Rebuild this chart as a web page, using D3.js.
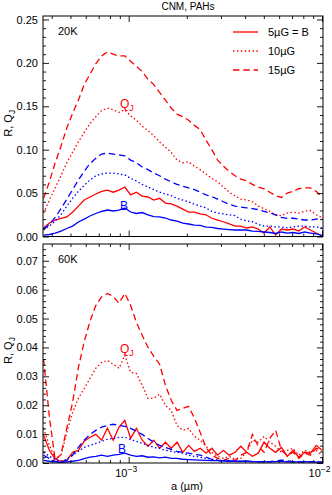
<!DOCTYPE html>
<html>
<head>
<meta charset="utf-8">
<script src="https://d3js.org/d3.v7.min.js"></script>
<style>
  body { margin: 0; background: #fff; }
  svg { font-family: "Liberation Sans", Arial, sans-serif; }
</style>
</head>
<body>
<svg id="chart" width="332" height="495"></svg>
<script>
// grain size grid, log10(a / µm)
const logA = [-3.44,-3.41,-3.38,-3.35,-3.32,-3.29,-3.26,-3.23,-3.20,-3.17,-3.14,-3.11,-3.08,-3.05,-3.02,-2.99,-2.96,-2.93,-2.90,-2.87,-2.84,-2.81,-2.78,-2.75,-2.72,-2.69,-2.66,-2.63,-2.60,-2.57,-2.54,-2.51,-2.48,-2.45,-2.42,-2.39,-2.36,-2.33,-2.30,-2.27,-2.24,-2.21,-2.18,-2.15,-2.12,-2.09,-2.06,-2.03,-2.00];

// 20K panel: red = Q_J, blue = R
const q20_5  = [0.0098,0.0155,0.019,0.021,0.0225,0.028,0.035,0.042,0.0455,0.049,0.052,0.0535,0.051,0.0535,0.057,0.048,0.051,0.0465,0.0455,0.042,0.044,0.0385,0.0375,0.035,0.0315,0.028,0.028,0.026,0.025,0.021,0.019,0.017,0.0145,0.012,0.012,0.0098,0.011,0.0086,0.004,0.011,0.0017,0.0086,0.0075,0.0086,0.0063,0.011,0.0075,0.004,0.0006];
const q20_10 = [0.027,0.042,0.056,0.070,0.085,0.097,0.109,0.120,0.130,0.138,0.145,0.148,0.146,0.143,0.146,0.139,0.134,0.127,0.122,0.116,0.109,0.103,0.097,0.088,0.085,0.086,0.081,0.077,0.072,0.067,0.063,0.057,0.051,0.047,0.043,0.042,0.040,0.035,0.032,0.029,0.025,0.024,0.027,0.028,0.027,0.029,0.030,0.025,0.022];
const q20_15 = [0.044,0.063,0.085,0.104,0.125,0.142,0.157,0.175,0.187,0.199,0.208,0.2125,0.210,0.208,0.208,0.202,0.196,0.190,0.181,0.175,0.166,0.157,0.148,0.141,0.138,0.134,0.128,0.123,0.111,0.100,0.088,0.081,0.075,0.070,0.066,0.064,0.060,0.057,0.055,0.051,0.047,0.045,0.050,0.052,0.055,0.056,0.056,0.052,0.045];
const r20_5  = [0.0017,0.0023,0.004,0.0063,0.0092,0.012,0.0167,0.020,0.0236,0.0265,0.0288,0.0305,0.0294,0.0305,0.0328,0.0282,0.0265,0.0276,0.0248,0.023,0.0225,0.0213,0.019,0.0178,0.0155,0.0144,0.0132,0.0127,0.0109,0.0104,0.0092,0.0086,0.008,0.0075,0.0075,0.0075,0.0063,0.0058,0.0052,0.0046,0.0035,0.0052,0.004,0.0046,0.0035,0.0052,0.004,0.0029,0.0012];
const r20_10 = [0.0075,0.012,0.018,0.025,0.035,0.044,0.052,0.059,0.065,0.070,0.072,0.073,0.073,0.072,0.071,0.067,0.064,0.060,0.057,0.054,0.051,0.049,0.047,0.044,0.042,0.040,0.037,0.035,0.033,0.029,0.027,0.026,0.025,0.024,0.020,0.018,0.017,0.014,0.012,0.012,0.011,0.011,0.010,0.011,0.012,0.012,0.011,0.011,0.010];
const r20_15 = [0.0086,0.014,0.022,0.032,0.043,0.054,0.065,0.075,0.084,0.090,0.095,0.096,0.095,0.094,0.093,0.088,0.085,0.080,0.077,0.073,0.070,0.066,0.063,0.060,0.058,0.056,0.054,0.051,0.048,0.046,0.043,0.040,0.037,0.035,0.034,0.033,0.032,0.031,0.029,0.027,0.025,0.022,0.021,0.021,0.020,0.019,0.019,0.020,0.021];

// 60K panel
const q60_5  = [0.0096,0.0044,0.0013,0.0006,0.0009,0.0037,0.0044,0.0075,0.0089,0.0099,0.0079,0.012,0.0079,0.0124,0.0148,0.0085,0.012,0.0079,0.0058,0.0079,0.0051,0.0072,0.0051,0.0072,0.0037,0.0061,0.004,0.0051,0.0034,0.0051,0.0027,0.0044,0.0027,0.0037,0.0058,0.0037,0.0023,0.0034,0.0072,0.0051,0.0037,0.0054,0.0023,0.0044,0.002,0.0037,0.0034,0.0061,0.0044];
const q60_10 = [0.012,0.0061,0.0016,0.0027,0.0106,0.0175,0.0224,0.0258,0.0293,0.0328,0.0348,0.0355,0.0342,0.0328,0.0373,0.0314,0.031,0.0269,0.0224,0.0224,0.0238,0.020,0.0182,0.013,0.0113,0.012,0.0092,0.0079,0.0058,0.0037,0.0023,0.0016,0.0023,0.0013,0.0016,0.0037,0.0079,0.0072,0.0092,0.0072,0.0058,0.0037,0.0044,0.0051,0.0027,0.0044,0.0037,0.0044,0.0027];
const q60_15 = [0.036,0.016,0.001,0.003,0.012,0.021,0.033,0.042,0.049,0.0545,0.0575,0.0587,0.0577,0.0553,0.0587,0.0546,0.0487,0.0442,0.040,0.0369,0.0342,0.0269,0.0217,0.0182,0.0189,0.0196,0.0155,0.0106,0.0054,0.0027,0.0016,0.0009,0.0016,0.0009,0.0027,0.0037,0.0099,0.0058,0.0037,0.0085,0.0113,0.0044,0.0027,0.0037,0.0016,0.0034,0.0027,0.0051,0.0044];
const r60_5  = [0.0009,0.0006,0.0004,0.0002,0.0004,0.0006,0.0009,0.0015,0.002,0.0023,0.0027,0.0023,0.0027,0.003,0.0034,0.0027,0.0023,0.0025,0.002,0.0021,0.0018,0.002,0.0016,0.0016,0.0013,0.0012,0.0011,0.001,0.0009,0.0008,0.0008,0.0007,0.0007,0.0006,0.0006,0.0006,0.0005,0.0005,0.0005,0.0004,0.0005,0.0005,0.0004,0.0004,0.0004,0.0004,0.0004,0.0003,0.0003];
const r60_10 = [0.0037,0.0023,0.0013,0.0006,0.0013,0.0027,0.004,0.0054,0.0061,0.0068,0.0075,0.0082,0.0085,0.0089,0.0089,0.0082,0.0075,0.0068,0.0061,0.0054,0.0051,0.0044,0.004,0.0037,0.0034,0.0027,0.0023,0.002,0.0016,0.0013,0.001,0.0009,0.0008,0.0007,0.0006,0.0006,0.0005,0.0005,0.0004,0.0004,0.0005,0.0006,0.0005,0.0004,0.0004,0.0005,0.0004,0.0004,0.0003];
const r60_15 = [0.0027,0.0016,0.0006,0.0002,0.0009,0.0027,0.0054,0.0079,0.0099,0.0113,0.0124,0.013,0.0134,0.013,0.0127,0.012,0.011,0.0099,0.0085,0.0072,0.0061,0.0054,0.0047,0.004,0.0037,0.0034,0.003,0.0027,0.002,0.0013,0.0009,0.0006,0.0006,0.0005,0.0005,0.0006,0.0005,0.0004,0.0004,0.0005,0.0007,0.001,0.0007,0.0005,0.0004,0.0004,0.0005,0.0004,0.0003];

const yTicks20 = [0, 0.05, 0.10, 0.15, 0.20, 0.25];
const yTicks60 = [0, 0.01, 0.02, 0.03, 0.04, 0.05, 0.06, 0.07];
const xMajor = [1e-3, 1e-2];
const xMinor = [4e-4,5e-4,6e-4,7e-4,8e-4,9e-4,2e-3,3e-3,4e-3,5e-3,6e-3,7e-3,8e-3,9e-3];
const legendLabels = ["5\u00b5G = B", "10\u00b5G", "15\u00b5G"];

const svg = d3.select("#chart");
const left = 43, right = 323;
const dashes = { solid: null, dotted: "1.5,2.4", dashed: "6.5,3.8" };

const x = d3.scaleLog()
  .domain([Math.pow(10, -3.443), Math.pow(10, -1.995)])
  .range([left, right]);

const panels = [
  { label: "20K", top: 16, bottom: 236.5, ymax: 0.254, ticks: yTicks20, minorStep: 0.01,
    series: [[q20_5,"red","solid"],[q20_10,"red","dotted"],[q20_15,"red","dashed"],
             [r20_5,"blue","solid"],[r20_10,"blue","dotted"],[r20_15,"blue","dashed"]],
    qj: [120, 108], bLab: [120, 210], xLabels: false },
  { label: "60K", top: 244, bottom: 463, ymax: 0.0758, ticks: yTicks60, minorStep: 0.002,
    series: [[q60_5,"red","solid"],[q60_10,"red","dotted"],[q60_15,"red","dashed"],
             [r60_5,"blue","solid"],[r60_10,"blue","dotted"],[r60_15,"blue","dashed"]],
    qj: [120, 353], bLab: [118, 453], xLabels: true }
];

panels.forEach((p, pi) => {
  const y = d3.scaleLinear().domain([0, p.ymax]).range([p.bottom, p.top]);
  const g = svg.append("g");

  const clipId = "clip" + pi;
  svg.append("clipPath").attr("id", clipId)
    .append("rect").attr("x", left).attr("y", p.top)
    .attr("width", right - left).attr("height", p.bottom - p.top);

  const line = d3.line()
    .x((d, i) => x(Math.pow(10, logA[i])))
    .y(d => y(d));

  const curves = g.append("g").attr("clip-path", `url(#${clipId})`);
  p.series.forEach(([vals, col, style]) => {
    curves.append("path").datum(vals)
      .attr("d", line)
      .attr("fill", "none")
      .attr("stroke", col)
      .attr("stroke-width", 1.3)
      .attr("stroke-dasharray", dashes[style]);
  });

  // minor y ticks
  const yMinor = d3.range(0, p.ymax + 1e-9, p.minorStep).filter(v => !p.ticks.some(t => Math.abs(t - v) < 1e-9));

  const axes = [
    [d3.axisBottom(x).tickValues(xMajor).tickSize(-6).tickPadding(6), `translate(0,${p.bottom})`, p.xLabels],
    [d3.axisBottom(x).tickValues(xMinor).tickSize(-3), `translate(0,${p.bottom})`, false],
    [d3.axisTop(x).tickValues(xMajor).tickSize(-6), `translate(0,${p.top})`, false],
    [d3.axisTop(x).tickValues(xMinor).tickSize(-3), `translate(0,${p.top})`, false],
    [d3.axisLeft(y).tickValues(p.ticks).tickSize(-6).tickPadding(5).tickFormat(d3.format(".2f")), `translate(${left},0)`, true],
    [d3.axisLeft(y).tickValues(yMinor).tickSize(-3), `translate(${left},0)`, false],
    [d3.axisRight(y).tickValues(p.ticks).tickSize(-6), `translate(${right},0)`, false],
    [d3.axisRight(y).tickValues(yMinor).tickSize(-3), `translate(${right},0)`, false]
  ];
  axes.forEach(([ax, tr, showLabels], k) => {
    const a = g.append("g").attr("transform", tr).call(ax);
    a.select(".domain").remove();
    a.selectAll("line").attr("stroke", "#000").attr("stroke-width", 0.9);
    a.selectAll("text").attr("font-family", "Liberation Sans, Arial, sans-serif")
      .attr("font-size", 11).attr("fill", "#000");
    if (!showLabels) a.selectAll("text").remove();
    if (k === 0 && showLabels) {
      a.selectAll("text").each(function(d) {
        const t = d3.select(this).text("").attr("x", -3);
        t.append("tspan").text("10");
        t.append("tspan").attr("dy", -5).attr("font-size", 8.5)
          .text("\u2212" + Math.round(-Math.log10(d)));
      });
    }
  });

  g.append("rect").attr("x", left).attr("y", p.top)
    .attr("width", right - left).attr("height", p.bottom - p.top)
    .attr("fill", "none").attr("stroke", "#000").attr("stroke-width", 1);

  g.append("text").attr("x", 58).attr("y", p.top + 19)
    .attr("font-size", 11).text(p.label);

  const qt = g.append("text").attr("x", p.qj[0]).attr("y", p.qj[1])
    .attr("font-size", 12).attr("fill", "red");
  qt.append("tspan").text("Q");
  qt.append("tspan").attr("dy", 3).attr("font-size", 9).text("J");

  g.append("text").attr("x", p.bLab[0]).attr("y", p.bLab[1])
    .attr("font-size", 12).attr("fill", "blue").text("B");

  const yl = g.append("text")
    .attr("transform", `translate(12,${(p.top + p.bottom) / 2 - 3}) rotate(-90)`)
    .attr("text-anchor", "middle").attr("font-size", 11);
  yl.append("tspan").text("R, Q");
  yl.append("tspan").attr("dy", 3).attr("font-size", 8.5).text("J");
});

// legend (top panel)
const legStyles = ["solid", "dotted", "dashed"];
const leg = svg.append("g");
legendLabels.forEach((lab, i) => {
  const ly = 32 + i * 19;
  leg.append("line").attr("x1", 233).attr("x2", 258).attr("y1", ly).attr("y2", ly)
    .attr("stroke", "red").attr("stroke-width", 1.3)
    .attr("stroke-dasharray", dashes[legStyles[i]]);
  leg.append("text").attr("x", 268).attr("y", ly + 4)
    .attr("font-size", 11).text(lab);
});

svg.append("text").attr("x", 188).attr("y", 10)
  .attr("text-anchor", "middle").attr("font-size", 10).text("CNM, PAHs");

svg.append("text").attr("x", 187).attr("y", 490)
  .attr("text-anchor", "middle").attr("font-size", 11).text("a (\u00b5m)");
</script>
</body>
</html>
